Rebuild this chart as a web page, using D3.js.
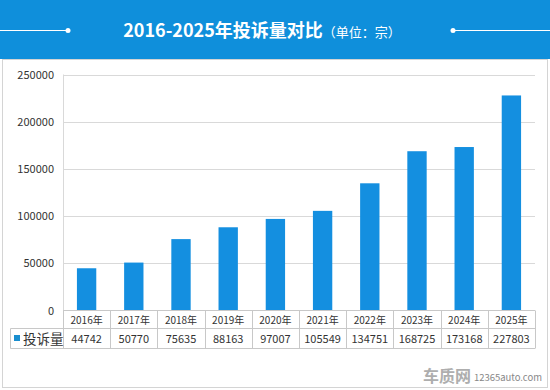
<!DOCTYPE html>
<html><head><meta charset="utf-8">
<script src="https://cdn.jsdelivr.net/npm/d3@7/dist/d3.min.js"></script>
<style>body{margin:0;background:#fff;}svg{display:block;font-family:"Microsoft YaHei","Noto Sans CJK SC","Noto Sans",sans-serif;}</style>
</head><body>
<svg id="c" width="550" height="390"></svg>
<script>
const categories = ["2016年","2017年","2018年","2019年","2020年","2021年","2022年","2023年","2024年","2025年"];
const values = [44742,50770,75635,88163,97007,105549,134751,168725,173168,227803];
const seriesName = "投诉量";
const yTicks = [0,50000,100000,150000,200000,250000];
const titleMain = "2016-2025年投诉量对比";
const titleUnit = "（单位：宗）";

const svg = d3.select("#c");
const W = 550, H = 390;
const blue = "#0f8fdb", barColor = "#148fe0", grid = "#d9d9d9", border = "#c8c8c8";

// header
svg.append("rect").attr("x",0).attr("y",0).attr("width",W).attr("height",59).attr("fill",blue);
svg.append("rect").attr("x",2.5).attr("y",59.5).attr("width",545).attr("height",328).attr("fill","#fff").attr("stroke","#d4d4d4");
svg.append("line").attr("x1",0).attr("x2",68).attr("y1",30.5).attr("y2",30.5).attr("stroke","#fff").attr("stroke-width",1);
svg.append("circle").attr("cx",68).attr("cy",30.5).attr("r",2.5).attr("fill","#fff");
svg.append("line").attr("x1",453).attr("x2",550).attr("y1",30.5).attr("y2",30.5).attr("stroke","#fff").attr("stroke-width",1);
svg.append("circle").attr("cx",453).attr("cy",30.5).attr("r",2.5).attr("fill","#fff");
const t = svg.append("text").attr("x",262).attr("y",37).attr("text-anchor","middle").attr("fill","#fff");
t.append("tspan").text(titleMain).attr("font-size",18).attr("font-weight","bold");
t.append("tspan").text(titleUnit).attr("font-size",13);

// scales
const x0 = 63, x1 = 535, yTop = 74.5, yBot = 310.5;
const x = d3.scaleBand().domain(categories).range([x0,x1]).paddingInner(0.59).paddingOuter(0.295);
const xc = d3.scaleBand().domain(categories).range([x0,x1]);
const y = d3.scaleLinear().domain([0,250000]).range([yBot,yTop]);

// grid
svg.append("g").selectAll("line").data(yTicks.filter(d=>d>0)).join("line")
  .attr("x1",x0).attr("x2",x1).attr("y1",d=>Math.round(y(d))+0.5).attr("y2",d=>Math.round(y(d))+0.5)
  .attr("stroke",grid);
svg.append("line").attr("x1",x0+0.5).attr("x2",x0+0.5).attr("y1",yTop).attr("y2",yBot).attr("stroke",grid);

// y axis labels
const yAxis = d3.axisLeft(y).tickValues(yTicks).tickSize(0).tickPadding(9).tickFormat(d3.format("d"));
const ga = svg.append("g").attr("transform",`translate(${x0},0)`).call(yAxis);
ga.select(".domain").remove();
ga.selectAll("text").attr("font-size",11).attr("fill","#333").attr("font-family","Microsoft YaHei,Noto Sans CJK SC,sans-serif");

// bars
svg.append("g").selectAll("rect").data(values).join("rect")
  .attr("x",(d,i)=>x(categories[i])).attr("width",x.bandwidth())
  .attr("y",d=>y(d)).attr("height",d=>yBot-y(d)).attr("fill",barColor);

// table
const rowMid = 328.5, rowBot = 348.5, tableLeft = 10.5;
const tg = svg.append("g").attr("stroke",border).attr("fill","none");
tg.append("line").attr("x1",x0).attr("x2",x1).attr("y1",yBot).attr("y2",yBot);
tg.append("line").attr("x1",tableLeft).attr("x2",x1).attr("y1",rowMid).attr("y2",rowMid);
tg.append("line").attr("x1",tableLeft).attr("x2",x1).attr("y1",rowBot).attr("y2",rowBot);
tg.append("line").attr("x1",tableLeft).attr("x2",tableLeft).attr("y1",rowMid).attr("y2",rowBot);
tg.selectAll(".v").data(categories.concat(["end"])).join("line")
  .attr("x1",(d,i)=>Math.round(x0+i*xc.bandwidth())+0.5).attr("x2",(d,i)=>Math.round(x0+i*xc.bandwidth())+0.5)
  .attr("y1",yBot).attr("y2",rowBot);

svg.append("g").selectAll("text").data(categories).join("text")
  .attr("x",d=>xc(d)+xc.bandwidth()/2).attr("y",323.5).attr("text-anchor","middle")
  .attr("font-size",10).attr("fill","#333").text(d=>d);
svg.append("g").selectAll("text").data(values).join("text")
  .attr("x",(d,i)=>xc(categories[i])+xc.bandwidth()/2).attr("y",343).attr("text-anchor","middle")
  .attr("font-size",11).attr("fill","#333").text(d=>d);

svg.append("rect").attr("x",14).attr("y",335).attr("width",6).attr("height",6).attr("fill","#1a8ecf");
svg.append("text").attr("x",23).attr("y",344).attr("font-size",13.5).attr("fill","#333").text(seriesName);

// watermark
svg.append("text").attr("x",423).attr("y",382).attr("font-size",16).attr("font-weight","bold").attr("fill","#9a9a9a").attr("opacity",0.8).text("车质网");
svg.append("text").attr("x",474).attr("y",381).attr("font-size",9.5).attr("fill","#888").attr("textLength",68).text("12365auto.com");
</script>
</body></html>
